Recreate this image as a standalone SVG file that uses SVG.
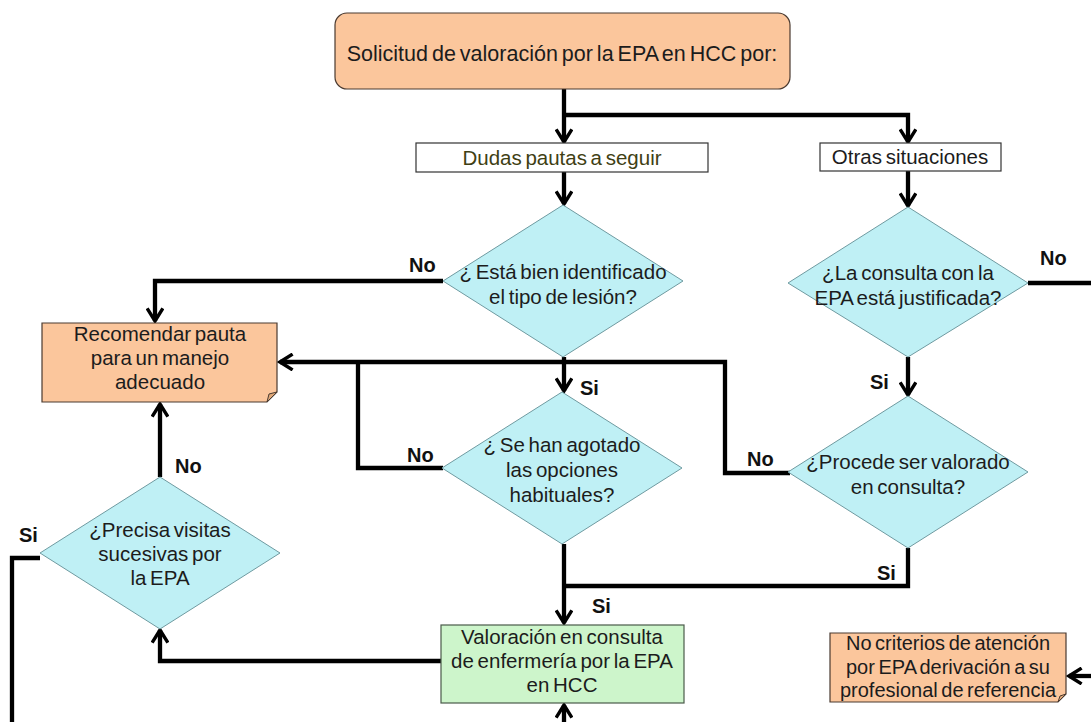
<svg xmlns="http://www.w3.org/2000/svg" width="1091" height="722" viewBox="0 0 1091 722">
<defs>
<style>
.t{font-family:"Liberation Sans",Arial,sans-serif;font-size:20.5px;fill:#1c1c1c;text-anchor:middle;word-spacing:-2px}
.lb{font-family:"Liberation Sans",Arial,sans-serif;font-size:20px;font-weight:bold;fill:#111}
.dia{fill:#bff0f5;stroke:#6f9aa0;stroke-width:1}
.org{fill:#fbc69c;stroke:#4a3a30;stroke-width:1.2}
.wb{fill:#fff;stroke:#333;stroke-width:1.2}
.grn{fill:#cdf5cb;stroke:#4a5a4a;stroke-width:1.2}
.ln{fill:none;stroke:#000;stroke-width:4.3;stroke-linejoin:miter}
.fold{fill:#e0a878;stroke:#4a3a30;stroke-width:1}
</style>
<marker id="ah" viewBox="0 0 12 12" refX="10" refY="6" markerWidth="4.4" markerHeight="4.4" orient="auto" markerUnits="strokeWidth">
<path d="M2,1 L10,6 L2,11" fill="none" stroke="#000" stroke-width="2.2"/>
</marker>
</defs>
<rect width="1091" height="722" fill="#fff"/>
<g id="connectors">
<path class="ln" d="M564,89 V142" marker-end="url(#ah)"/>
<path class="ln" d="M564,115 H908 V142" marker-end="url(#ah)"/>
<path class="ln" d="M564,172 V204" marker-end="url(#ah)"/>
<path class="ln" d="M908,171 V206" marker-end="url(#ah)"/>
<path class="ln" d="M443,281 H155 V321" marker-end="url(#ah)"/>
<path class="ln" d="M564,357 V391" marker-end="url(#ah)"/>
<path class="ln" d="M790,473 H725 V362 H280" marker-end="url(#ah)"/>
<path class="ln" d="M443,468 H358 V362"/>
<path class="ln" d="M908,357 V395" marker-end="url(#ah)"/>
<path class="ln" d="M908,548 V586 H564"/>
<path class="ln" d="M564,544 V623" marker-end="url(#ah)"/>
<path class="ln" d="M441,661 H160 V630" marker-end="url(#ah)"/>
<path class="ln" d="M160,477 V404" marker-end="url(#ah)"/>
<path class="ln" d="M40,558 H12 V722"/>
<path class="ln" d="M564,722 V705" marker-end="url(#ah)"/>
<path class="ln" d="M1028,283 H1091"/>
<path class="ln" d="M1091,676 H1069" marker-end="url(#ah)"/>
</g>
<g id="n-solicitud">
<rect class="org" x="335" y="13" width="455" height="76" rx="12"/>
<text class="t" x="562" y="61" style="font-size:21.5px">Solicitud de valoración por la EPA en HCC por:</text>
</g>
<g id="n-dudas">
<rect class="wb" x="416" y="143" width="292" height="29"/>
<text class="t" x="562" y="165" style="fill:#3f3f14">Dudas pautas a seguir</text>
</g>
<g id="n-otras">
<rect class="wb" x="820" y="143" width="181" height="28"/>
<text class="t" x="910" y="164">Otras situaciones</text>
</g>
<g id="n-identificado">
<polygon class="dia" points="563,205 683,281 563,357 443,281"/>
<text class="t" x="563" y="279">¿ Está bien identificado</text>
<text class="t" x="563" y="304">el tipo de lesión?</text>
</g>
<g id="n-justificada">
<polygon class="dia" points="908,207 1028,283 908,357 788,283"/>
<text class="t" x="908" y="280">¿La consulta con la</text>
<text class="t" x="908" y="305">EPA está justificada?</text>
</g>
<g id="n-recomendar">
<path class="org" d="M42,323 H277 V392 L267,402 H42 Z"/>
<path class="fold" d="M277,392 L267,402 L269,394 Z"/>
<text class="t" x="160" y="341">Recomendar pauta</text>
<text class="t" x="160" y="365">para un manejo</text>
<text class="t" x="160" y="389">adecuado</text>
</g>
<g id="n-agotado">
<polygon class="dia" points="562,392 682,468 562,544 442,468"/>
<text class="t" x="562" y="452">¿ Se han agotado</text>
<text class="t" x="562" y="477">las opciones</text>
<text class="t" x="562" y="502">habituales?</text>
</g>
<g id="n-procede">
<polygon class="dia" points="908,396 1028,472 908,548 788,472"/>
<text class="t" x="908" y="469">¿Procede ser valorado</text>
<text class="t" x="908" y="494">en consulta?</text>
</g>
<g id="n-precisa">
<polygon class="dia" points="160,477 280,553 160,629 40,553"/>
<text class="t" x="160" y="537">¿Precisa visitas</text>
<text class="t" x="160" y="561">sucesivas por</text>
<text class="t" x="160" y="585">la EPA</text>
</g>
<g id="n-valoracion">
<rect class="grn" x="441" y="625" width="243" height="78"/>
<text class="t" x="562" y="644">Valoración en consulta</text>
<text class="t" x="562" y="668">de enfermería por la EPA</text>
<text class="t" x="562" y="692">en HCC</text>
</g>
<g id="n-nocriterios">
<path class="org" d="M830,633 H1066 V694 L1058,702 H830 Z"/>
<path class="fold" d="M1066,694 L1058,702 L1060,696 Z"/>
<text class="t" x="948" y="650" style="font-size:20px">No criterios de atención</text>
<text class="t" x="948" y="674" style="font-size:20px">por EPA derivación a su</text>
<text class="t" x="948" y="697" style="font-size:20px">profesional de referencia</text>
</g>
<g id="labels">
<text class="lb" x="409" y="272">No</text>
<text class="lb" x="1040" y="265">No</text>
<text class="lb" x="580" y="395">Si</text>
<text class="lb" x="870" y="389">Si</text>
<text class="lb" x="407" y="462">No</text>
<text class="lb" x="747" y="466">No</text>
<text class="lb" x="877" y="580">Si</text>
<text class="lb" x="592" y="613">Si</text>
<text class="lb" x="175" y="473">No</text>
<text class="lb" x="19" y="542">Si</text>
</g>
</svg>
